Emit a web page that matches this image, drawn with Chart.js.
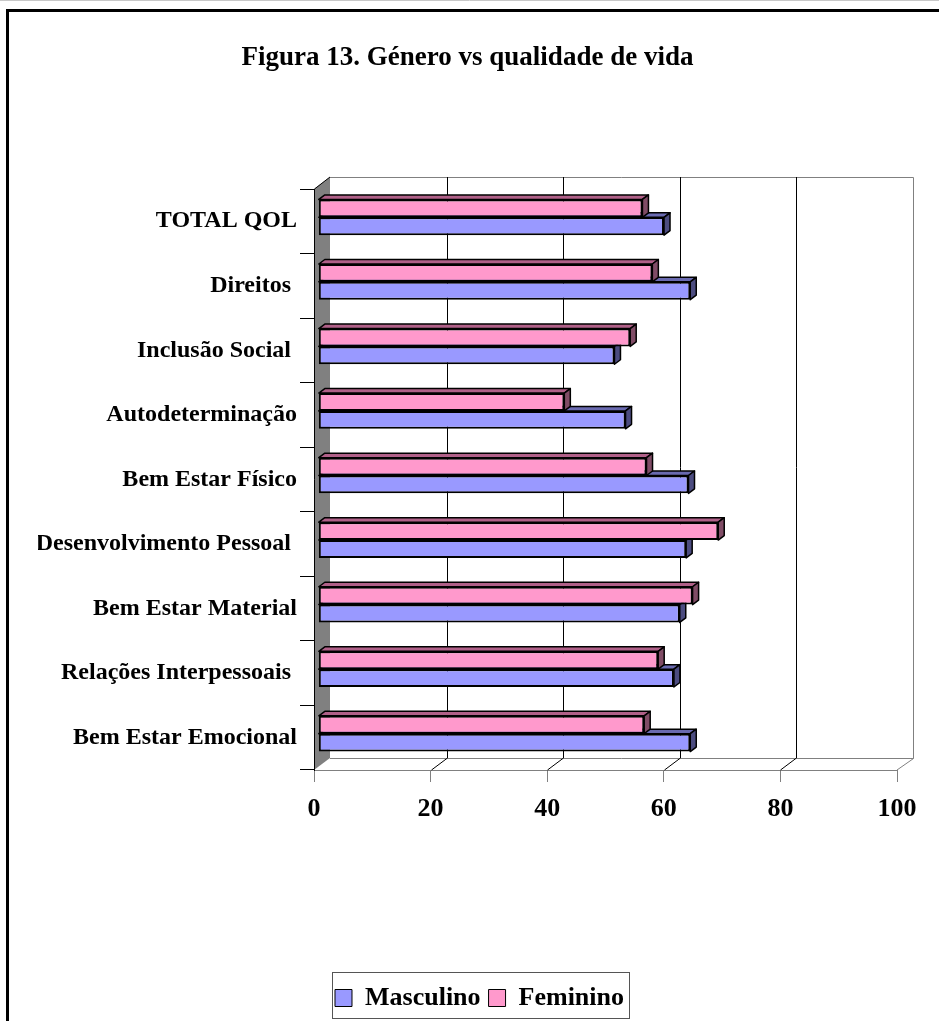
<!DOCTYPE html>
<html lang="pt">
<head>
    <meta charset="UTF-8">
    <title>Género vs qualidade de vida</title>
    <style>
        body {
            margin: 0;
            background-color: #fff;
            overflow: hidden;
        }
        .chart-box {
            position: relative;
            width: 939px;
            height: 1021px;
        }
    </style>
</head>
<body>
    <div class="chart-box">
        <canvas id="qolChart"></canvas>
    </div>

    <script src="https://cdn.jsdelivr.net/npm/chart.js"></script>

    <script>
        // Domains, top to bottom (trailing spaces are part of the original labels)
        const categorias = [
            'TOTAL QOL', 'Direitos ', 'Inclusão Social ', 'Autodeterminação',
            'Bem Estar Físico', 'Desenvolvimento Pessoal ', 'Bem Estar Material',
            'Relações Interpessoais ', 'Bem Estar Emocional'
        ];
        const masculino = [59.3, 63.8, 50.8, 52.7, 63.5, 63.1, 62.0, 61.0, 63.8];
        const feminino  = [55.6, 57.3, 53.5, 42.2, 56.3, 68.6, 64.2, 58.3, 55.9];
        const xTicks = [0, 20, 40, 60, 80, 100];

        // fake 3D: depth of the walls and of the bars
        const WALL_DX = 16, WALL_DY = -12;
        const BAR_SHIFT_X = 4.3, BAR_SHIFT_Y = -4;
        const BAR_DX = 6, BAR_DY = -4.5;
        const LEGEND_SHIFT = 12;

        Chart.defaults.font.family = '"Liberation Serif", "Times New Roman", serif';
        Chart.defaults.font.weight = 'bold';
        Chart.defaults.color = '#000';

        const excel3d = {
            id: 'excel3d',
            afterLayout(chart) {
                chart.legend.left += LEGEND_SHIFT;
                chart.legend.right += LEGEND_SHIFT;
            },
            beforeDraw(chart) {
                const ctx = chart.ctx;
                ctx.save();
                ctx.strokeStyle = '#c8c8c8';
                ctx.lineWidth = 1;
                ctx.beginPath();
                ctx.moveTo(0, 0.5);
                ctx.lineTo(chart.width, 0.5);
                ctx.stroke();
                // outer frame
                ctx.strokeStyle = '#000';
                ctx.lineWidth = 3;
                ctx.beginPath();
                ctx.moveTo(7.5, chart.height);
                ctx.lineTo(7.5, 10.5);
                ctx.lineTo(chart.width, 10.5);
                ctx.stroke();
                ctx.restore();
            },
            beforeDatasetsDraw(chart) {
                const { ctx, chartArea: a, scales: { x } } = chart;
                const bt = a.top + WALL_DY, bb = a.bottom + WALL_DY;
                const bl = a.left + WALL_DX, br = a.right + WALL_DX;
                ctx.save();
                ctx.lineWidth = 1;
                // back wall + floor outline
                ctx.strokeStyle = '#808080';
                ctx.beginPath();
                ctx.moveTo(bl, bt + 0.5);
                ctx.lineTo(br + 0.5, bt + 0.5);
                ctx.lineTo(br + 0.5, bb + 0.5);
                ctx.lineTo(bl, bb + 0.5);
                ctx.moveTo(br + 0.5, bb + 0.5);
                ctx.lineTo(a.right, a.bottom);
                ctx.stroke();
                // gridlines on the back wall and across the floor
                ctx.strokeStyle = '#000';
                ctx.beginPath();
                xTicks.slice(1, -1).forEach(v => {
                    const fx = Math.round(x.getPixelForValue(v)) + 0.5;
                    const bx = fx + WALL_DX;
                    ctx.moveTo(bx, bt);
                    ctx.lineTo(bx, bb);
                    ctx.lineTo(fx, a.bottom);
                });
                ctx.stroke();
                // grey side wall
                ctx.fillStyle = '#808080';
                ctx.beginPath();
                ctx.moveTo(a.left, a.top);
                ctx.lineTo(bl, bt);
                ctx.lineTo(bl, bb);
                ctx.lineTo(a.left, a.bottom);
                ctx.closePath();
                ctx.fill();
                ctx.strokeStyle = '#000';
                ctx.beginPath();
                ctx.moveTo(a.left + 0.5, a.bottom);
                ctx.lineTo(a.left + 0.5, a.top);
                ctx.lineTo(bl, bt);
                ctx.stroke();
                ctx.restore();

                // bars stand a bit behind the front plane
                ctx.save();
                ctx.translate(BAR_SHIFT_X, BAR_SHIFT_Y);
            },
            afterDatasetDraw(chart, args) {
                const ctx = chart.ctx;
                const ds = chart.data.datasets[args.index];
                ctx.save();
                ctx.lineWidth = 1.5;
                ctx.strokeStyle = '#000';
                ctx.lineJoin = 'round';
                args.meta.data.forEach(bar => {
                    const { x, y, base, height } = bar.getProps(['x', 'y', 'base', 'height'], true);
                    const top = y - height / 2, bot = y + height / 2;
                    const left = Math.min(x, base), right = Math.max(x, base);
                    // top face
                    ctx.fillStyle = ds.faceTop;
                    ctx.beginPath();
                    ctx.moveTo(left, top);
                    ctx.lineTo(left + BAR_DX, top + BAR_DY);
                    ctx.lineTo(right + BAR_DX, top + BAR_DY);
                    ctx.lineTo(right, top);
                    ctx.closePath();
                    ctx.fill();
                    ctx.stroke();
                    // end face
                    ctx.fillStyle = ds.faceSide;
                    ctx.beginPath();
                    ctx.moveTo(right, top);
                    ctx.lineTo(right + BAR_DX, top + BAR_DY);
                    ctx.lineTo(right + BAR_DX, bot + BAR_DY);
                    ctx.lineTo(right, bot);
                    ctx.closePath();
                    ctx.fill();
                    ctx.stroke();
                });
                ctx.restore();
            },
            afterDatasetsDraw(chart) {
                chart.ctx.restore();
            },
            afterDraw(chart) {
                // box round the legend
                const lg = chart.legend;
                const pad = lg.options.labels.padding;
                const rowW = lg.lineWidths[0];
                const start = (lg.left + pad + lg.right - rowW) / 2;
                const ctx = chart.ctx;
                ctx.save();
                ctx.strokeStyle = '#555';
                ctx.lineWidth = 1;
                ctx.strokeRect(Math.round(start - 3) + 0.5, lg.top - 4.5,
                    Math.round(rowW - pad + 8), 46);
                ctx.restore();
            }
        };

        window.onload = function() {
            const ctx = document.getElementById('qolChart').getContext('2d');
            new Chart(ctx, {
                type: 'bar',
                data: {
                    labels: categorias,
                    datasets: [{
                        label: 'Feminino',
                        data: feminino,
                        backgroundColor: '#FF99CC',
                        faceTop: '#B06088',
                        faceSide: '#804C66',
                        borderColor: '#000',
                        borderWidth: 2,
                        borderSkipped: false,
                        categoryPercentage: 0.553,
                        barPercentage: 1.0
                    }, {
                        label: 'Masculino',
                        data: masculino,
                        backgroundColor: '#9999FF',
                        faceTop: '#6A6AB0',
                        faceSide: '#4C4C80',
                        borderColor: '#000',
                        borderWidth: 2,
                        borderSkipped: false,
                        categoryPercentage: 0.553,
                        barPercentage: 1.0
                    }]
                },
                options: {
                    indexAxis: 'y',
                    responsive: true,
                    maintainAspectRatio: false,
                    animation: false,
                    events: [],
                    layout: {
                        padding: { left: 38, right: 42, top: 0, bottom: 0 }
                    },
                    scales: {
                        x: {
                            min: 0,
                            max: 100,
                            ticks: {
                                stepSize: 20,
                                padding: 12,
                                font: { size: 26, weight: 'bold' }
                            },
                            grid: {
                                drawOnChartArea: false,
                                drawTicks: true,
                                tickLength: 12,
                                color: '#808080'
                            },
                            border: { color: '#808080' },
                            afterFit(scale) { scale.height = 207; }
                        },
                        y: {
                            ticks: {
                                padding: 3,
                                font: { size: 24, weight: 'bold' }
                            },
                            grid: {
                                drawOnChartArea: false,
                                drawTicks: true,
                                tickLength: 14,
                                color: '#000'
                            },
                            border: { color: '#000' },
                            afterFit(scale) { scale.width = 276; }
                        }
                    },
                    plugins: {
                        title: {
                            display: true,
                            text: 'Figura 13. Género vs qualidade de vida',
                            font: { size: 27, weight: 'bold' },
                            color: '#000',
                            padding: { top: 42, bottom: 114.6 }
                        },
                        legend: {
                            position: 'bottom',
                            reverse: true,
                            labels: {
                                boxWidth: 17,
                                boxHeight: 17,
                                padding: 8,
                                font: { size: 26, weight: 'bold' },
                                generateLabels(chart) {
                                    const items = Chart.defaults.plugins.legend.labels.generateLabels(chart);
                                    items.forEach(it => { it.lineWidth = 1; });
                                    return items;
                                }
                            }
                        },
                        tooltip: { enabled: false }
                    }
                },
                plugins: [excel3d]
            });
        };
    </script>
</body>
</html>
